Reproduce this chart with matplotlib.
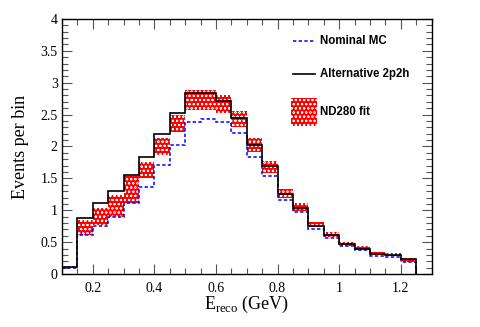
import numpy as np
import matplotlib
matplotlib.use('Agg')
import matplotlib.pyplot as plt
from matplotlib.patches import Rectangle
from matplotlib.ticker import MultipleLocator

plt.rcParams['mathtext.fontset'] = 'custom'
plt.rcParams['mathtext.rm'] = 'Liberation Serif'
plt.rcParams['hatch.linewidth'] = 0.4

# bin edges in E_reco (GeV), 0.05 GeV wide
edges = np.round(np.arange(0.10, 1.2501, 0.05), 2)

# nominal MC prediction
nominal = [0.09, 0.61, 0.76, 0.89, 1.12, 1.37, 1.71, 2.03, 2.39, 2.43, 2.39, 2.21,
           1.84, 1.54, 1.16, 0.97, 0.71, 0.56, 0.44, 0.37, 0.29, 0.27, 0.19]
# alternative 2p2h model
alt_2p2h = [0.115, 0.88, 1.11, 1.30, 1.56, 1.83, 2.19, 2.52, 2.84, 2.84, 2.72, 2.44,
            2.03, 1.69, 1.25, 1.04, 0.76, 0.61, 0.465, 0.39, 0.31, 0.30, 0.23]
# ND280 fit band (low / high)
fit_low = [0.09, 0.61, 0.77, 0.89, 1.12, 1.50, 1.86, 2.22, 2.57, 2.58, 2.53, 2.31,
           1.92, 1.59, 1.19, 0.99, 0.73, 0.575, 0.44, 0.37, 0.30, 0.28, 0.19]
fit_high = [0.12, 0.84, 1.04, 1.24, 1.54, 1.75, 2.13, 2.49, 2.88, 2.89, 2.81, 2.55,
            2.13, 1.78, 1.33, 1.11, 0.82, 0.66, 0.51, 0.44, 0.35, 0.335, 0.256]

labels = ['Nominal MC', 'Alternative 2p2h', 'ND280 fit']
blue_ls = (0, (2.2, 1.5))
red_hatch = 'oooo'

fig = plt.figure(figsize=(4.8, 3.27), dpi=100)
ax = fig.add_axes([0.129, 0.162, 0.770, 0.780])

# ND280 fit band, red with white dots
ax.stairs(fit_high, edges, baseline=fit_low, fill=True, facecolor='#ff0000',
          edgecolor='white', hatch=red_hatch, linewidth=0, zorder=1)
ax.stairs(nominal, edges, baseline=0, color='#0000ff', linestyle=blue_ls,
          linewidth=1.1, zorder=2)
ax.stairs(alt_2p2h, edges, baseline=0, color='black', linewidth=1.2, zorder=3)

ax.set_xlim(0.1, 1.3)
ax.set_ylim(0, 4)
ax.xaxis.set_minor_locator(MultipleLocator(0.05))
ax.yaxis.set_minor_locator(MultipleLocator(0.1))
ax.set_xticks([0.2, 0.4, 0.6, 0.8, 1.0, 1.2])
ax.set_xticklabels(['0.2', '0.4', '0.6', '0.8', '1', '1.2'], family='Liberation Serif')
ax.set_yticks([0, 0.5, 1, 1.5, 2, 2.5, 3, 3.5, 4])
ax.set_yticklabels(['0', '0.5', '1', '1.5', '2', '2.5', '3', '3.5', '4'],
                   family='Liberation Serif')
ax.tick_params(which='both', direction='in', top=True, right=True,
               labelsize=10, width=0.8, color='#555555')
ax.tick_params(which='major', length=7)
ax.tick_params(which='minor', length=4)
ax.tick_params(axis='x', pad=6)
ax.tick_params(axis='y', pad=3)
for sp in ax.spines.values():
    sp.set_linewidth(1.0)

ax.set_xlabel(r'E$_{\rm reco}$ (GeV)', family='Liberation Serif', fontsize=13, labelpad=-1)
ax.set_ylabel('Events per bin', family='Liberation Serif', fontsize=13, labelpad=8)

# legend drawn by hand (ROOT style, no frame)
tr = ax.transAxes
lx0, lx1, tx = 0.624, 0.685, 0.699
ax.plot([lx0, lx1], [0.915, 0.915], transform=tr, color='#0000ff',
        linestyle=blue_ls, linewidth=1.1, clip_on=False)
ax.plot([lx0, lx1], [0.784, 0.784], transform=tr, color='black',
        linewidth=1.2, clip_on=False)
ax.add_patch(Rectangle((0.621, 0.580), 0.068, 0.110, transform=tr,
                       facecolor='#ff0000', edgecolor='white', hatch=red_hatch,
                       linewidth=0, clip_on=False))
for ly, lab in zip([0.915, 0.784, 0.636], labels):
    ax.text(tx, ly, lab, transform=tr, va='center', ha='left',
            family='Liberation Sans', weight='bold', fontsize=8.3)

fig.savefig('out.png', dpi=100)
